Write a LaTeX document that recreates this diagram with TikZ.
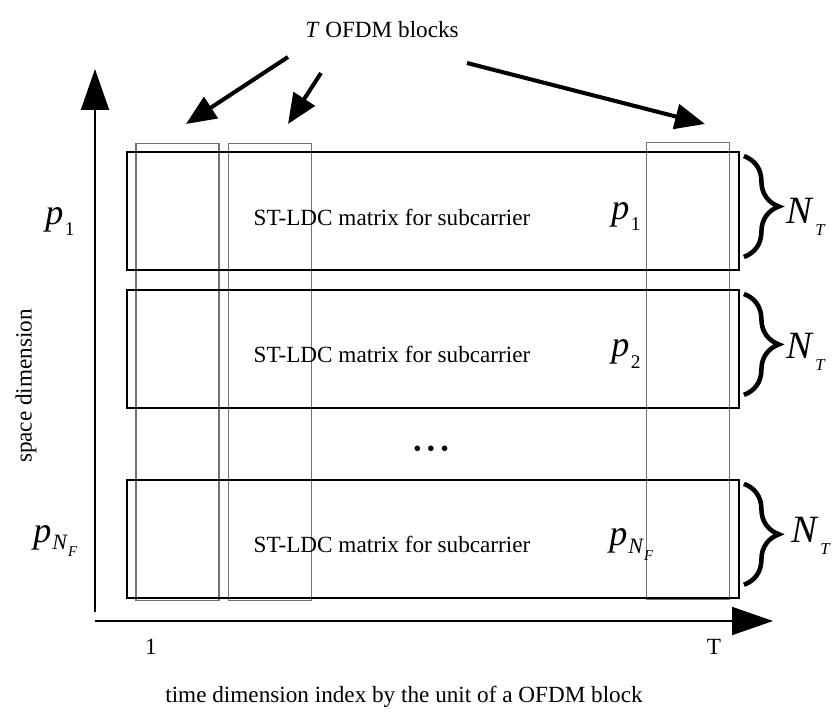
\documentclass[tikz,border=0pt]{standalone}
\usepackage{fontspec}
\setmainfont{Liberation Serif}
\usetikzlibrary{arrows.meta, positioning, calc, decorations.pathreplacing}

% symbols with hanging subscripts
\newcommand{\psub}[1]{{\fontsize{20.5}{24}\selectfont\textit{p}}\kern0.8pt\raisebox{-6.5pt}{\fontsize{11}{12}\selectfont #1}}
\newcommand{\pnf}{{\fontsize{20.5}{24}\selectfont\textit{p}}\kern0.6pt\raisebox{-4.5pt}{\fontsize{12.5}{14}\selectfont\textit{N}\raisebox{-4pt}{\fontsize{8.5}{9}\selectfont\textit{F}}}}
\newcommand{\nsub}{{\fontsize{22}{24}\selectfont\textit{N}}\kern0.8pt\raisebox{-7pt}{\fontsize{9.5}{10}\selectfont\textit{T}}}

\begin{document}
\begin{tikzpicture}[
    x=0.02cm, y=-0.02cm,
    font=\fontsize{13.2}{15}\selectfont,
    rowbox/.style={draw, line width=1.1pt, minimum width=12.24cm, minimum height=2.36cm, inner sep=0pt},
    colbox/.style={draw=black!55, line width=0.6pt, minimum width=1.66cm, minimum height=9.16cm, inner sep=0pt},
    axis/.style={line width=1.1pt, -{Triangle[length=0.82cm, width=0.56cm]}},
    pointer/.style={line width=2.3pt, -{Triangle[length=0.6cm, width=0.5cm]}},
    nbrace/.style={decorate, decoration={brace, amplitude=0.7cm}, line width=2.6pt}
]
    \useasboundingbox (0,0) rectangle (838,713);

    % OFDM block columns
    \node[colbox] (col1) at (177.5,372) {};
    \node[colbox] (col2) at (270,372) {};
    \node[colbox] (col3) at (688,371) {};

    % ST-LDC matrices
    \node[rowbox] (row1) at (433,211) {};
    \node[rowbox, below=0.36cm of row1] (row2) {};
    \node[rowbox, below=1.4cm of row2] (row3) {};

    \node[anchor=base] (lbl1) at ($(row1.center)+(-41,14)$) {ST-LDC matrix for subcarrier};
    \node[anchor=base] (lbl2) at ($(row2.center)+(-41,14)$) {ST-LDC matrix for subcarrier};
    \node[anchor=base] (lbl3) at ($(row3.center)+(-41,14)$) {ST-LDC matrix for subcarrier};

    \node[anchor=base west, inner sep=0pt] (pin1) at ($(row1.center)+(178,8)$) {\psub{1}};
    \node[anchor=base west, inner sep=0pt] (pin2) at ($(row2.center)+(178,8)$) {\psub{2}};
    \node[anchor=base west, inner sep=0pt] (pin3) at ($(row3.center)+(176,7)$) {\pnf};

    \node (dots) at (431,451) {\textbullet\kern0.24em\textbullet\kern0.24em\textbullet};

    % braces
    \draw[nbrace] ($(row1.north east)+(4,5)$) -- ($(row1.south east)+(4,-14)$);
    \draw[nbrace] ($(row2.north east)+(4,5)$) -- ($(row2.south east)+(4,-14)$);
    \draw[nbrace] ($(row3.north east)+(4,5)$) -- ($(row3.south east)+(4,-14)$);

    \node[anchor=base west, inner sep=0pt] (nt1) at (786,223) {\nsub};
    \node[anchor=base west, inner sep=0pt] (nt2) at (786,358) {\nsub};
    \node[anchor=base west, inner sep=0pt] (nt3) at (791,542) {\nsub};

    % axes
    \coordinate (ybot) at (95,612);
    \coordinate (ytop) at (95,69);
    \coordinate (xleft) at (95,621);
    \coordinate (xright) at (773,621);
    \draw[axis] (ybot) -- (ytop);
    \draw[axis] (xleft) -- (xright);

    \node[anchor=base west, inner sep=0pt] (pleft1) at (45,224) {\psub{1}};
    \node[anchor=base west, inner sep=0pt] (pleft3) at (33,542) {\pnf};

    \node (one) at (151,647) {1};
    \node (tee) at (714,647) {T};
    \node (xlabel) at (404,697) {time dimension index by the unit of a OFDM block};
    \node[rotate=90] (ylabel) at (26,386) {space dimension};

    % T OFDM blocks
    \node (title) at (382,30) {\textit{T} OFDM blocks};
    \coordinate (from1) at (288,57);
    \coordinate (to1) at (186,124);
    \coordinate (from2) at (321,73);
    \coordinate (to2) at (288,124);
    \coordinate (from3) at (467,63);
    \coordinate (to3) at (705,124);
    \draw[pointer] (from1) -- (to1);
    \draw[pointer] (from2) -- (to2);
    \draw[pointer] (from3) -- (to3);
\end{tikzpicture}
\end{document}
